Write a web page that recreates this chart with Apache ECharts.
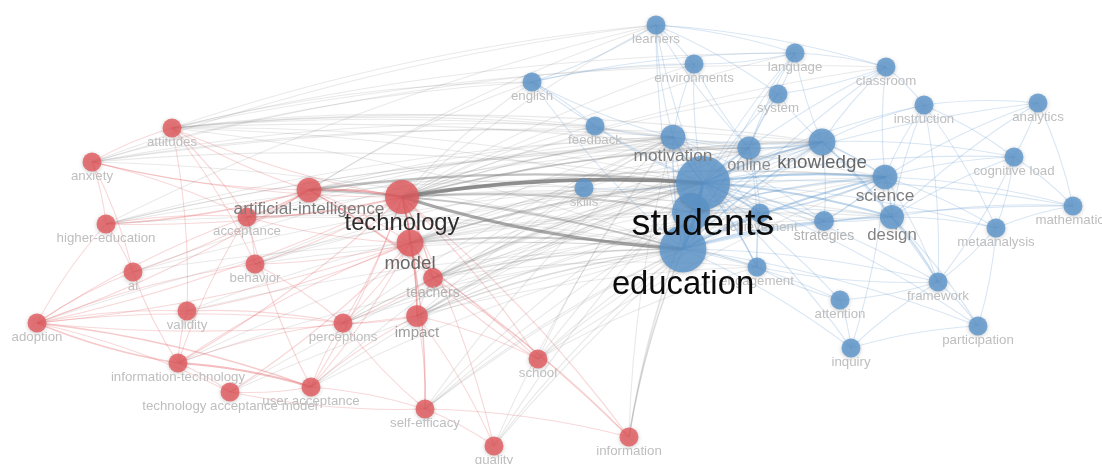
<!DOCTYPE html>
<html>
<head>
<meta charset="utf-8">
<script src="https://cdn.jsdelivr.net/npm/echarts@6/dist/echarts.min.js"></script>
<style>
html,body{margin:0;padding:0;background:#fff;}
#chart{width:1102px;height:464px;}
</style>
</head>
<body>
<div id="chart"></div>
<script>
// ---- DATA (map coordinates, occurrences, clusters) ----
const nodeNames = [
  'attitudes','anxiety','acceptance','higher-education','ai','behavior','validity','adoption',
  'perceptions','information-technology','school','technology acceptance model','user acceptance',
  'self-efficacy','quality','information','teachers','impact','artificial-intelligence','model','technology',
  'learners','environments','language','english','classroom','system','instruction','analytics','feedback',
  'cognitive load','skills','mathematics','metaanalysis','achievement','strategies','engagement','framework',
  'attention','participation','inquiry','online','motivation','science','design','knowledge',
  'learning','education','students'
];
const nodeCluster = [
  1,1,1,1,1,1,1,1,
  1,1,1,1,1,
  1,1,1,1,1,1,1,1,
  2,2,2,2,2,2,2,2,2,
  2,2,2,2,2,2,2,2,
  2,2,2,2,2,2,2,2,
  2,2,2
];
const nodeX = [
  17.2,9.2,24.7,10.6,13.3,25.5,18.7,3.7,
  34.3,17.8,53.8,23.0,31.1,
  42.5,49.4,62.9,43.3,41.7,30.9,41.0,40.2,
  65.6,69.4,79.5,53.2,88.6,77.8,92.4,103.8,59.5,
  101.4,58.4,107.3,99.6,76.0,82.4,75.7,93.8,
  84.0,97.8,85.1,74.9,67.3,88.5,89.2,82.2,
  69.1,68.3,70.3
];
const nodeY = [
  12.8,16.2,21.7,22.4,27.2,26.4,31.1,32.3,
  32.3,36.3,35.9,39.2,38.7,
  40.9,44.6,43.7,27.8,31.6,19.0,24.3,19.7,
  2.5,6.4,5.3,8.2,6.7,9.4,10.5,10.3,12.6,
  15.7,18.8,20.6,22.8,21.3,22.1,26.7,28.2,
  30.0,32.6,34.8,14.8,13.7,17.7,21.7,14.2,
  21.2,24.9,18.3
];
const nodeOccurrences = [
  10,10,10,10,10,10,10,10,
  10,10,10,10,10,
  10,10,10,11,13,17,20,32,
  10,10,10,10,10,10,10,10,10,
  10,10,10,10,10,11,10,10,
  10,10,10,15,17,17,16,20,
  40,61,81
];
const hiddenLabels = ['learning'];

const links = [
  // cluster 1 (red)
  ['artificial-intelligence','technology',4],['technology','model',3],['technology','teachers',2],
  ['technology','impact',2],['technology','acceptance',2],['technology','school',1],['technology','information',1],
  ['technology','self-efficacy',1],['technology','behavior',1],['technology','perceptions',1],['technology','anxiety',1],
  ['technology','attitudes',1],['technology','higher-education',1],['technology','adoption',1],
  ['technology','information-technology',1],['technology','user acceptance',1],['technology','quality',1],
  ['artificial-intelligence','acceptance',2],['artificial-intelligence','higher-education',2],
  ['artificial-intelligence','anxiety',1],['artificial-intelligence','attitudes',1],['artificial-intelligence','teachers',1],
  ['artificial-intelligence','model',1],['artificial-intelligence','ai',1],['artificial-intelligence','adoption',1],
  ['artificial-intelligence','information',1],['artificial-intelligence','school',1],
  ['model','impact',2],['model','teachers',2],['model','acceptance',1],['model','behavior',1],['model','perceptions',1],
  ['model','validity',1],['model','self-efficacy',1],['model','adoption',1],['model','user acceptance',1],
  ['model','technology acceptance model',1],
  ['impact','teachers',1],['impact','perceptions',1],['impact','self-efficacy',1],['impact','quality',1],
  ['impact','school',1],['impact','adoption',1],
  ['information-technology','adoption',2],['adoption','user acceptance',2],['adoption','technology acceptance model',1],
  ['adoption','ai',1],['adoption','acceptance',1],['adoption','perceptions',1],['adoption','validity',1],
  ['adoption','higher-education',1],['adoption','behavior',1],
  ['information-technology','user acceptance',3],['information-technology','validity',1],
  ['information-technology','technology acceptance model',1],['information-technology','perceptions',1],
  ['information-technology','ai',1],['information-technology','model',1],['information-technology','acceptance',1],
  ['user acceptance','technology acceptance model',1],['user acceptance','perceptions',1],['user acceptance','acceptance',1],
  ['user acceptance','self-efficacy',1],['user acceptance','impact',1],
  ['self-efficacy','information',1],['self-efficacy','quality',1],['self-efficacy','perceptions',1],
  ['self-efficacy','technology acceptance model',1],['school','teachers',1],
  ['anxiety','attitudes',1],['anxiety','acceptance',1],['anxiety','higher-education',1],['anxiety','ai',1],
  ['attitudes','acceptance',1],['attitudes','behavior',1],['attitudes','validity',1],
  ['higher-education','ai',1],['higher-education','acceptance',1],['acceptance','behavior',1],
  ['behavior','perceptions',1],['validity','perceptions',1],['teachers','perceptions',1],['teachers','information',1],
  // between clusters
  ['technology','students',8],['education','technology',6],['technology','learning',3],['technology','motivation',2],
  ['technology','knowledge',2],['technology','online',2],['technology','skills',1],['technology','science',2],
  ['technology','design',1],['technology','achievement',1],['technology','feedback',1],['technology','english',1],
  ['technology','learners',1],['technology','environments',1],['technology','strategies',1],
  ['technology','language',1],['technology','system',1],['technology','classroom',1],['technology','engagement',1],
  ['artificial-intelligence','students',4],['artificial-intelligence','education',3],['artificial-intelligence','skills',1],
  ['artificial-intelligence','motivation',1],['artificial-intelligence','knowledge',1],['artificial-intelligence','online',1],
  ['artificial-intelligence','english',1],['artificial-intelligence','learners',1],
  ['model','students',3],['model','education',3],['model','achievement',1],['model','design',1],['model','learning',1],
  ['model','motivation',1],['model','knowledge',1],['model','science',1],['model','online',1],['model','skills',1],
  ['teachers','students',2],['teachers','education',2],['teachers','knowledge',1],['teachers','science',1],
  ['teachers','motivation',1],['teachers','online',1],['teachers','achievement',1],['teachers','design',1],
  ['teachers','engagement',1],
  ['impact','students',2],['impact','education',2],['impact','achievement',1],['impact','motivation',1],['impact','engagement',1],
  ['impact','knowledge',1],['impact','science',1],['impact','online',1],
  ['attitudes','students',1],['attitudes','education',1],['attitudes','science',1],['attitudes','motivation',1],
  ['attitudes','knowledge',1],['attitudes','classroom',1],['attitudes','online',1],['attitudes','feedback',1],
  ['attitudes','english',1],['attitudes','learners',1],['attitudes','achievement',1],['attitudes','language',1],
  ['anxiety','students',1],['anxiety','english',1],['anxiety','learners',1],['anxiety','education',1],
  ['anxiety','motivation',1],['anxiety','feedback',1],['anxiety','knowledge',1],['anxiety','environments',1],
  ['acceptance','students',1],['acceptance','education',1],['acceptance','motivation',1],['acceptance','online',1],
  ['higher-education','students',1],['higher-education','education',1],['higher-education','online',1],
  ['higher-education','motivation',1],['higher-education','knowledge',1],['higher-education','learners',1],
  ['school','students',1],['school','education',1],['school','science',1],['school','achievement',1],
  ['school','motivation',1],['school','engagement',1],
  ['information','education',2],['information','students',1],['information','learning',1],['information','motivation',1],
  ['quality','education',1],['quality','students',1],['quality','motivation',1],['quality','knowledge',1],
  ['self-efficacy','students',1],['self-efficacy','education',1],['self-efficacy','motivation',1],
  ['self-efficacy','achievement',1],['self-efficacy','knowledge',1],
  ['perceptions','students',1],['perceptions','education',1],['perceptions','motivation',1],['perceptions','knowledge',1],
  ['perceptions','achievement',1],
  ['behavior','students',1],['behavior','education',1],['behavior','motivation',1],['behavior','knowledge',1],
  ['user acceptance','education',1],['user acceptance','students',1],['user acceptance','motivation',1],
  ['information-technology','education',1],['information-technology','students',1],
  ['ai','education',1],['ai','students',1],['ai','motivation',1],['validity','students',1],['validity','education',1],
  ['adoption','students',1],['technology acceptance model','education',1],['technology acceptance model','students',1],
  // cluster 2 (blue)
  ['students','education',6],['students','learning',4],['education','learning',4],['students','motivation',3],
  ['students','knowledge',3],['students','online',2],['students','science',4],['students','design',3],
  ['students','achievement',3],['students','strategies',2],['students','engagement',2],['students','skills',1],
  ['students','feedback',1],['students','english',1],['students','learners',1],['students','environments',1],
  ['students','language',1],['students','system',1],['students','classroom',1],['students','instruction',1],
  ['students','framework',1],['students','attention',1],['students','inquiry',1],['students','participation',1],
  ['students','metaanalysis',1],['students','cognitive load',1],['students','analytics',1],['students','mathematics',1],
  ['education','motivation',2],['education','knowledge',2],['education','science',3],['education','design',2],
  ['education','achievement',2],['education','strategies',2],['education','engagement',1],['education','learners',1],
  ['education','english',1],['education','framework',1],['education','inquiry',1],['education','attention',1],
  ['education','participation',1],['education','language',1],['education','classroom',1],['education','mathematics',1],
  ['education','online',2],
  ['knowledge','science',2],['knowledge','design',2],['knowledge','online',2],['knowledge','motivation',1],
  ['knowledge','system',1],['knowledge','language',1],['knowledge','classroom',1],['knowledge','instruction',1],
  ['knowledge','strategies',1],['knowledge','cognitive load',1],['knowledge','framework',1],
  ['science','design',2],['science','cognitive load',1],['science','instruction',1],['science','classroom',1],
  ['science','mathematics',1],['science','metaanalysis',1],['science','analytics',1],['science','achievement',2],
  ['science','strategies',2],['science','inquiry',1],['science','framework',1],
  ['design','framework',2],['design','metaanalysis',1],['design','cognitive load',1],['design','strategies',1],
  ['design','instruction',1],['design','analytics',1],['design','participation',1],['design','mathematics',1],
  ['online','system',2],['online','language',1],['online','motivation',1],['online','environments',1],
  ['online','learners',1],['online','engagement',1],['online','achievement',1],
  ['motivation','learners',1],['motivation','feedback',1],['motivation','english',1],['motivation','environments',1],
  ['motivation','achievement',1],['motivation','engagement',1],['motivation','strategies',1],
  ['learners','environments',1],['learners','english',1],['learners','language',1],['learners','system',1],
  ['learners','classroom',1],['english','feedback',1],['english','environments',1],['english','language',1],
  ['language','classroom',1],['language','system',1],['language','environments',1],
  ['classroom','instruction',1],['classroom','system',1],
  ['instruction','analytics',1],['instruction','cognitive load',1],['instruction','framework',1],['instruction','metaanalysis',1],
  ['analytics','cognitive load',1],['analytics','mathematics',1],['cognitive load','mathematics',1],
  ['cognitive load','metaanalysis',1],['cognitive load','framework',1],['metaanalysis','mathematics',1],
  ['metaanalysis','framework',1],['metaanalysis','participation',1],['framework','participation',1],
  ['framework','attention',1],['framework','engagement',1],['attention','inquiry',1],['attention','engagement',1],
  ['inquiry','participation',1],['inquiry','framework',1],['engagement','achievement',1],
  ['learning','motivation',1],['learning','science',2],['learning','knowledge',1],['learning','design',1],
  ['learning','achievement',1]
];

// ---- styling ----
const clusterRGB = {1: [226, 90, 94], 2: [94, 150, 204]};
const greyRGB = [120, 120, 120];
const clusterOf = {};
nodeNames.forEach((n, i) => clusterOf[n] = nodeCluster[i]);

function labelGrey(w) {
  let g = Math.round(190 - 125 * Math.log(w / 10));
  g = Math.max(12, Math.min(190, g));
  return 'rgb(' + g + ',' + g + ',' + g + ')';
}

const nodes = nodeNames.map((name, i) => {
  const w = nodeOccurrences[i];
  const d = 6 * Math.sqrt(w);
  const fs = 4.2 * Math.sqrt(w);
  const c = clusterRGB[nodeCluster[i]];
  return {
    name: name,
    value: [nodeX[i], nodeY[i]],
    symbolSize: d,
    itemStyle: {
      color: 'rgba(' + c.join(',') + ',0.82)',
      shadowBlur: 4, shadowColor: 'rgba(0,0,0,0.25)', shadowOffsetY: 1
    },
    label: {
      show: hiddenLabels.indexOf(name) < 0,
      position: 'bottom',
      distance: -0.12 * fs,
      fontSize: fs,
      color: labelGrey(w),
      fontFamily: 'Liberation Sans, Arial, sans-serif'
    }
  };
});

const linkData = links.map(([a, b, w]) => {
  const same = clusterOf[a] === clusterOf[b];
  const rgb = same ? clusterRGB[clusterOf[a]] : greyRGB;
  const op = Math.min(0.8, (same ? 0.15 : 0.07) + (same ? 0.085 : 0.095) * w);
  return {
    source: a, target: b,
    lineStyle: {
      color: 'rgba(' + rgb.join(',') + ',' + op.toFixed(3) + ')',
      width: 0.7 + 0.4 * w,
      curveness: 0.06
    }
  };
});

const chart = echarts.init(document.getElementById('chart'), null, {renderer: 'canvas'});
chart.setOption({
  animation: false,
  backgroundColor: '#ffffff',
  grid: {left: 0, right: 0, top: 0, bottom: 0},
  xAxis: {type: 'value', min: 0, max: 110.2, show: false},
  yAxis: {type: 'value', min: 0, max: 46.4, inverse: true, show: false},
  series: [{
    type: 'graph',
    coordinateSystem: 'cartesian2d',
    data: nodes,
    links: linkData,
    symbol: 'circle',
    edgeSymbol: ['none', 'none'],
    emphasis: {disabled: true},
    lineStyle: {opacity: 1}
  }]
});
</script>
</body>
</html>
